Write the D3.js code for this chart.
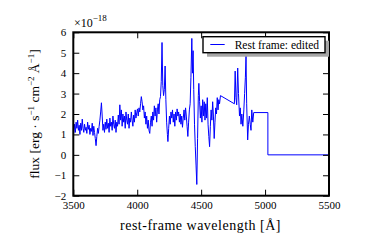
<!DOCTYPE html>
<html><head><meta charset="utf-8">
<script src="https://cdn.jsdelivr.net/npm/d3@7"></script>
<style>body{margin:0;background:#fff}svg text{font-family:"Liberation Serif","Times New Roman",serif;fill:#000}</style>
</head><body><svg id="c" width="366" height="246"></svg>
<script>
const wavelength = [3504,3510,3516,3522,3528,3534,3540,3546,3552,3558,3564,3570,3576,3582,3588,3594,3600,3606,3612,3618,3624,3630,3636,3642,3648,3654,3660,3666,3672,3678,3684,3690,3696,3702,3708,3714,3720,3726,3732,3738,3744,3750,3756,3762,3768,3774,3780,3786,3792,3798,3804,3810,3816,3822,3828,3834,3840,3846,3852,3858,3864,3870,3876,3882,3888,3894,3900,3906,3912,3918,3924,3930,3936,3942,3948,3954,3960,3966,3972,3978,3984,3990,3996,4002,4008,4014,4020,4026,4032,4038,4044,4050,4056,4062,4068,4074,4080,4086,4092,4098,4104,4110,4116,4122,4128,4134,4140,4146,4152,4158,4164,4170,4176,4182,4188,4194,4200,4206,4212,4218,4224,4230,4236,4240,4246,4252,4258,4264,4270,4276,4282,4288,4294,4300,4306,4312,4318,4324,4330,4336,4342,4348,4354,4360,4366,4372,4378,4384,4390,4396,4402,4408,4414,4420,4427,4432,4437,4442,4448,4454,4460,4466,4472,4478,4482,4488,4494,4500,4506,4512,4518,4524,4530,4536,4542,4548,4554,4560,4566,4572,4578,4584,4590,4596,4602,4608,4614,4620,4626,4632,4638,4644,4651,4760,4766,4772,4778,4786,4792,4800,4806,4812,4818,4826,4834,4840,4846,4851,4856,4864,4870,4877,4884,4890,4896,4904,4911,5022,5022,5500];
const flux = [1.05,1.5,1.1,1.6,1.3,1.7,1.2,1.45,1.0,1.55,1.2,1.75,1.3,1.1,1.5,1.2,1.35,1.05,1.6,1.25,1.45,1.0,1.3,1.15,1.55,0.95,1.4,1.1,0.8,0.45,0.9,1.3,1.05,1.4,1.7,2.1,2.55,1.9,1.2,1.5,1.1,1.6,1.25,1.75,1.3,1.55,1.1,1.8,1.4,1.6,1.2,1.9,1.5,1.3,1.7,1.1,1.6,1.4,1.95,1.5,2.45,1.7,2.2,1.4,2.0,1.6,1.9,1.3,2.1,1.7,1.5,2.0,1.3,1.8,1.6,2.1,1.7,1.4,1.95,1.6,2.2,1.8,2.05,2.25,1.9,2.3,2.1,2.5,2.85,2.6,2.2,2.4,1.8,2.1,1.5,1.9,1.3,1.7,1.2,1.05,1.6,1.9,1.4,2.1,1.7,2.4,1.9,2.3,1.6,2.2,2.5,2.0,2.7,2.85,3.6,5.5,3.4,2.9,3.2,4.35,2.7,1.6,1.0,0.65,1.3,1.9,1.5,2.1,1.8,2.2,1.6,2.0,1.4,2.1,1.7,2.25,1.9,2.1,1.6,2.0,1.5,1.9,1.35,1.8,2.2,1.7,2.3,1.9,1.4,0.9,1.6,2.2,2.5,3.8,5.7,4.0,5.1,3.2,1.5,0.4,-0.5,-1.45,0.8,2.9,3.5,2.6,1.8,2.4,1.6,2.7,1.9,2.6,1.7,2.5,1.8,2.8,1.5,0.9,0.4,1.4,2.2,1.7,2.6,1.9,0.8,1.6,2.3,2.0,2.8,2.2,2.7,2.5,2.9,2.5,4.1,2.8,2.45,4.25,3.0,1.9,2.3,1.5,2.0,1.4,2.2,3.0,3.8,4.85,2.5,0.73,1.5,1.9,1.5,1.2,2.2,1.6,2.07,2.07,0,0];
const xTicks = [3500,4000,4500,5000,5500];
const yTicks = [-2,-1,0,1,2,3,4,5,6];
const seriesName = "Rest frame: edited";

const svg = d3.select("#c");
svg.append("rect").attr("width",366).attr("height",246).attr("fill","#fff");
const L=73.3,R=329,T=32.3,B=195.7;
const x = d3.scaleLinear().domain([3500,5500]).range([L,R]);
const y = d3.scaleLinear().domain([-2,6]).range([B,T]);
const fmt = d => String(d).replace("-","\u2212");

const data = wavelength.map((w,i)=>[w,flux[i]]);
svg.append("path").datum(data)
  .attr("d", d3.line().x(d=>x(d[0])).y(d=>y(d[1])))
  .attr("fill","none").attr("stroke","#0000ff").attr("stroke-width",1);

const ax = (g)=>g.selectAll(".domain").remove();
svg.append("g").attr("transform",`translate(0,${B})`)
  .call(d3.axisBottom(x).tickValues(xTicks).tickFormat(fmt).tickSizeInner(-6).tickSizeOuter(0).tickPadding(6))
  .call(ax).call(g=>g.selectAll("text").attr("font-size","11px").attr("font-family","Liberation Serif"));
svg.append("g").attr("transform",`translate(0,${T})`)
  .call(d3.axisTop(x).tickValues(xTicks).tickFormat("").tickSizeInner(-6).tickSizeOuter(0)).call(ax);
svg.append("g").attr("transform",`translate(${L},0)`)
  .call(d3.axisLeft(y).tickValues(yTicks).tickFormat(fmt).tickSizeInner(-6).tickSizeOuter(0).tickPadding(7))
  .call(ax).call(g=>g.selectAll("text").attr("font-size","11px").attr("font-family","Liberation Serif"));
svg.append("g").attr("transform",`translate(${R},0)`)
  .call(d3.axisRight(y).tickValues(yTicks).tickFormat("").tickSizeInner(-6).tickSizeOuter(0)).call(ax);
svg.selectAll(".tick line").attr("stroke","#000").attr("stroke-width",1);

svg.append("rect").attr("x",L).attr("y",T).attr("width",R-L).attr("height",B-T)
  .attr("fill","none").attr("stroke","#000").attr("stroke-width",2);

// exponent
const ex = svg.append("text").attr("x",74).attr("y",26.5).attr("font-size","12px");
ex.append("tspan").text("\u00d710");
ex.append("tspan").attr("dy",-5.5).attr("font-size","9px").text("\u221218");

// legend
svg.append("rect").attr("x",207).attr("y",40.7).attr("width",122).attr("height",16).attr("fill","#a6a6a6");
svg.append("rect").attr("x",203).attr("y",36.7).attr("width",122).attr("height",16).attr("fill","#fff").attr("stroke","#000").attr("stroke-width",1.4);
svg.append("line").attr("x1",210.3).attr("x2",224.7).attr("y1",44.5).attr("y2",44.5).attr("stroke","#0000ff").attr("stroke-width",1);
svg.append("text").attr("x",234.7).attr("y",48.5).attr("font-size","11.5px").text(seriesName);

// axis labels
svg.append("text").attr("x",200.5).attr("y",229.5).attr("text-anchor","middle").attr("font-size","14px").attr("letter-spacing","0.5px").text("rest-frame wavelength [\u00c5]");
const yl = svg.append("text").attr("transform","translate(39,114) rotate(-90)").attr("text-anchor","middle").attr("font-size","13.5px");
yl.append("tspan").text("flux [erg \u00b7 s");
yl.append("tspan").attr("dy",-5).attr("font-size","9px").text("\u22121");
yl.append("tspan").attr("dy",5).text(" cm");
yl.append("tspan").attr("dy",-5).attr("font-size","9px").text("\u22122");
yl.append("tspan").attr("dy",5).text(" \u00c5");
yl.append("tspan").attr("dy",-5).attr("font-size","9px").text("\u22121");
yl.append("tspan").attr("dy",5).text("]");
</script></body></html>
